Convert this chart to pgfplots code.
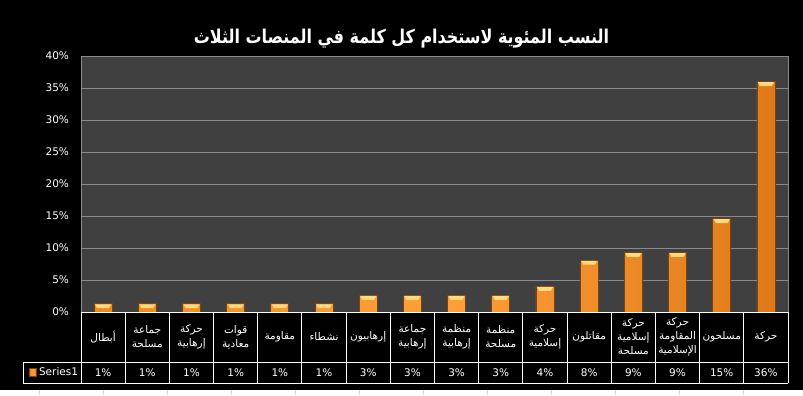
\documentclass[border=0pt]{standalone}
\usepackage{fontspec}
\setmainfont{DejaVu Sans}
\newfontfamily\arabicfont[Script=Arabic]{DejaVu Sans}
\TeXXeTstate=1
\usepackage{pgfplots}
\usepackage{pgfplotstable}
\pgfplotsset{compat=1.18}
\definecolor{plotbg}{HTML}{404040}
\definecolor{gridc}{HTML}{8A8A8A}
\definecolor{barL}{HTML}{EE881C}
\definecolor{barM}{HTML}{FFA03A}
\definecolor{barR}{HTML}{E07A18}
\definecolor{barEdge}{HTML}{7A4312}
\definecolor{capc}{HTML}{FFDA80}
\newcommand\ar[1]{{\arabicfont\beginR #1\endR}}
\pgfdeclareplotmark{cap}{%
  \pgfpathmoveto{\pgfqpoint{-8pt}{-0.6pt}}%
  \pgfpathlineto{\pgfqpoint{8pt}{-0.6pt}}%
  \pgfpathlineto{\pgfqpoint{6pt}{-4.5pt}}%
  \pgfpathlineto{\pgfqpoint{-6pt}{-4.5pt}}%
  \pgfpathclose\pgfusepath{fill}}
\pgfplotstableread{
x y
0 1.3
1 1.3
2 1.3
3 1.3
4 1.3
5 1.3
6 2.6
7 2.6
8 2.6
9 2.6
10 4.0
11 8.1
12 9.3
13 9.3
14 14.6
15 36.0
}\datatable
\begin{document}
\begin{tikzpicture}[x=1pt,y=1pt]
\fill[white] (0,0) rectangle (803,395);
\fill[black] (0,5) rectangle (803,395);
\foreach \xx in {39,103,167,231,295,359,423,487,551,615,679,743}
  \draw[gray!35, line width=0.6pt] (\xx,0) -- (\xx,5);
\node[text=white, font=\arabicfont\bfseries\fontsize{19}{22}\selectfont, transform shape, xscale=0.84] at (401.5,356.5) {\beginR النسب المئوية لاستخدام كل كلمة في المنصات الثلاث\endR};
\begin{axis}[
  at={(81pt,83pt)}, anchor=south west,
  scale only axis, width=707pt, height=256pt,
  xmin=-0.5, xmax=15.5, ymin=0, ymax=40,
  axis background/.style={fill=plotbg},
  axis line style={gridc},
  ymajorgrids, grid style={gridc, line width=0.8pt},
  major tick length=0pt,
  ytick={0,5,10,15,20,25,30,35,40},
  yticklabels={0\%,5\%,10\%,15\%,20\%,25\%,30\%,35\%,40\%},
  yticklabel style={text=white, font=\fontsize{10.5}{12}\selectfont, xshift=-8.5pt},
  xtick={0,...,15},
  xticklabels={
    \ar{أبطال},
    \ar{جماعة}\\\ar{مسلحة},
    \ar{حركة}\\\ar{إرهابية},
    \ar{قوات}\\\ar{معادية},
    \ar{مقاومة},
    \ar{نشطاء},
    \ar{إرهابيون},
    \ar{جماعة}\\\ar{إرهابية},
    \ar{منظمة}\\\ar{إرهابية},
    \ar{منظمة}\\\ar{مسلحة},
    \ar{حركة}\\\ar{إسلامية},
    \ar{مقاتلون},
    \ar{حركة}\\\ar{إسلامية}\\\ar{مسلحة},
    \ar{حركة}\\\ar{المقاومة}\\\ar{الإسلامية},
    \ar{مسلحون},
    \ar{حركة}},
  xticklabel style={anchor=center, yshift=-25pt, align=center, text=white, inner sep=0pt, font=\fontsize{10.5}{14}\selectfont},
  extra x ticks={0,...,15},
  extra x tick labels={1\%,1\%,1\%,1\%,1\%,1\%,3\%,3\%,3\%,3\%,4\%,8\%,9\%,9\%,15\%,36\%},
  extra x tick style={grid=none, major tick length=0pt, xticklabel style={yshift=-35.5pt, font=\fontsize{10.5}{12}\selectfont}},
  legend style={at={(-0.074,-0.236)}, anchor=west, draw=none, fill=none, text=white, font=\fontsize{10.5}{12}\selectfont, inner sep=0pt},
]
\addplot[ybar, bar width=18pt, draw=barEdge, line width=0.7pt, left color=barL, right color=barR, middle color=barM,
  legend image code/.code={\draw[draw=barEdge, left color=barL, right color=barR, middle color=barM] (0pt,-3.8pt) rectangle (7.5pt,3.8pt);}]
  table[x=x, y=y] {\datatable};
\addlegendentry{Series1}
\addplot[only marks, mark=cap, mark options={fill=capc, draw=none}, forget plot] table[x=x, y=y] {\datatable};
\end{axis}
\draw[white, line width=0.9pt] (81,83) -- (788,83);
\draw[white, line width=0.9pt] (23,33) -- (788,33);
\draw[white, line width=0.9pt] (23,12) -- (788,12);
\draw[white, line width=0.9pt] (23,33) -- (23,12);
\foreach \k in {0,...,16}
  \draw[white, line width=0.9pt] ({81+44.1875*\k},83) -- ({81+44.1875*\k},12);
\end{tikzpicture}
\end{document}
